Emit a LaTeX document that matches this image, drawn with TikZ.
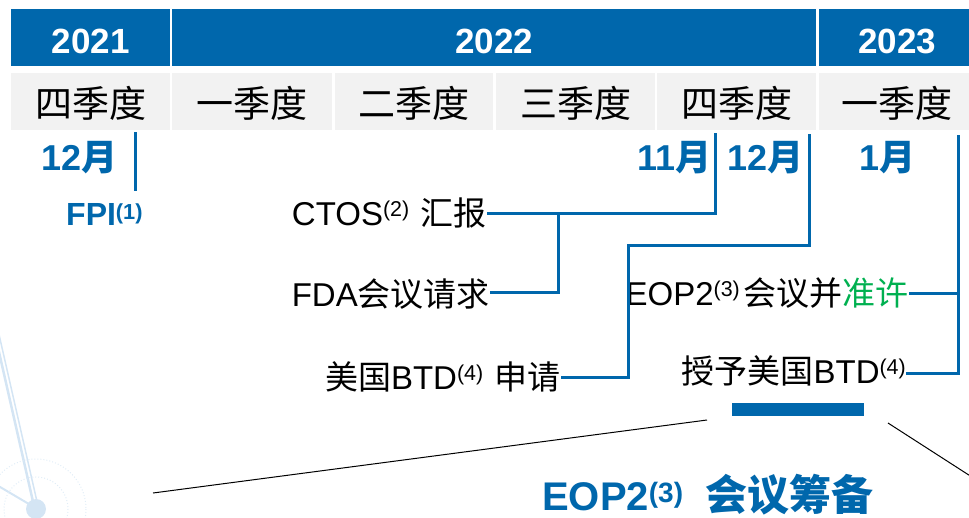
\documentclass[tikz,border=0pt]{standalone}
\usepackage{fontspec}
\usepackage{graphicx}
\setmainfont{Liberation Sans}
\newfontfamily\cjk{Noto Sans CJK SC}
\definecolor{hdrblue}{RGB}{0,103,172}
\definecolor{cellgray}{RGB}{242,242,242}
\definecolor{okgreen}{RGB}{0,176,80}
\definecolor{decoblue}{RGB}{212,229,244}
\newcommand\supr[3]{\raisebox{#2em}{\scalebox{#1}{#3}}}
\newcommand\zh[1]{{\cjk #1}}
\newcommand\ssup[1]{\supr{0.65}{0.27}{#1}}
\begin{document}
\begin{tikzpicture}[x=1pt,y=-1pt,
  yearcell/.style={fill=hdrblue, text=white, font=\fontsize{35}{40}\selectfont\bfseries,
    minimum height=57pt, inner sep=0pt, anchor=north west, text height=31pt, text depth=0pt},
  qcell/.style={fill=cellgray, text=black, font=\fontsize{37}{42}\selectfont\cjk,
    minimum height=57pt, inner sep=0pt, anchor=north west, text height=31pt, text depth=0pt},
  lbl/.style={inner sep=0pt, font=\fontsize{33}{39}\selectfont, text height=24pt, text depth=0pt},
  month/.style={inner sep=0pt, text=hdrblue, font=\fontsize{36}{42}\selectfont\bfseries, text height=26pt, text depth=0pt},
  fpilbl/.style={inner sep=0pt, text=hdrblue, font=\fontsize{32}{36}\selectfont\bfseries, text height=23pt, text depth=0pt},
  bigtitle/.style={inner sep=0pt, text=hdrblue, font=\fontsize{40}{46}\selectfont\bfseries, text height=28pt, text depth=0pt},
  conn/.style={draw=hdrblue, line width=3pt},
  thin/.style={draw=black, line width=1pt},
  deco/.style={draw=decoblue, line width=2.5pt}
]
\useasboundingbox (0,0) rectangle (969,517);
% faint background decoration
\begin{scope}
\clip (0,0) rectangle (969,517);
\draw[deco] (-6,330) -- (34,506);
\draw[deco, line width=1.5pt] (-2,330) -- (38,506);
\draw[deco, line width=2pt] (-5,484) -- (34,507);
\draw[decoblue!70, dotted, line width=1pt] (36,509) circle (32);
\draw[decoblue!70, dotted, line width=1pt] (36,509) circle (50);
\fill[decoblue] (36,509) circle (10);
\end{scope}
% header
\node[yearcell, minimum width=159pt] (y21) at (11,9) {2021};
\node[yearcell, minimum width=644pt] (y22) at (172,9) {2022};
\node[yearcell, minimum width=156pt] (y23) at (819,9) {2023};
\node[qcell, minimum width=159pt] (q1) at (11,73) {四季度};
\node[qcell, minimum width=160pt] (q2) at (172,73) {一季度};
\node[qcell, minimum width=158pt] (q3) at (335,73) {二季度};
\node[qcell, minimum width=159pt] (q4) at (496,73) {三季度};
\node[qcell, minimum width=159pt] (q5) at (657,73) {四季度};
\node[qcell, minimum width=156pt] (q6) at (819,73) {一季度};
% months
\node[month, anchor=east] (mo1) at (118,157) {12\zh{月}};
\node[fpilbl, anchor=west] (fpi) at (66,214) {FPI\supr{0.68}{0.2}{(1)}};
\node[month, anchor=east] (mo2) at (712,157) {11\zh{月}};
\node[month, anchor=west] (mo3) at (727,157) {12\zh{月}};
\node[month, anchor=west] (mo4) at (859,157) {1\zh{月}};
% event labels
\node[lbl, anchor=east] (ctos) at (487,213) {CTOS\ssup{(2)}\hspace{0.35em}\zh{汇报}};
\node[lbl, anchor=east] (fda) at (490,294) {FDA\zh{会议请求}};
\node[lbl, anchor=east] (btdapp) at (561,377) {\zh{美国}BTD\ssup{(4)}\hspace{0.35em}\zh{申请}};
\node[lbl, anchor=east] (eop) at (909,293) {EOP2\ssup{(3)}\hspace{0.12em}\zh{会议并}\textcolor{okgreen}{\zh{准许}}};
\node[lbl, anchor=east] (grant) at (906,371) {\zh{授予美国}BTD\ssup{(4)}};
% connector ends
\coordinate (t21a) at (135,132);
\coordinate (t21b) at (135,191);
\coordinate (t11) at (715,133);
\coordinate (fork) at (558,213);
\coordinate (t12) at (809,134);
\coordinate (bend) at (628,245);
\coordinate (t1) at (958,135);
\coordinate (fork2) at (958,293);
\draw[conn] (t21a) -- (t21b);
\draw[conn] (t11) |- (ctos.east);
\draw[conn] (fork) |- ([yshift=2pt]fda.east);
\draw[conn] (t12) |- (bend) |- (btdapp.east);
\draw[conn] (t1) |- ([yshift=-2pt]grant.east);
\draw[conn] (fork2) -- (eop.east);
% bar and zoom lines
\node[fill=hdrblue, minimum width=132pt, minimum height=13pt, inner sep=0pt, anchor=north west] (bar) at (732,403) {};
\coordinate (z1) at (153,493);
\coordinate (z2) at (707,420);
\coordinate (z3) at (888,423);
\coordinate (z4) at (975,479);
\draw[thin] (z1) -- (z2);
\draw[thin] (z3) -- (z4);
% title
\node[bigtitle, anchor=west] (title) at (542,496) {EOP2\supr{0.7}{0.2}{(3)}\hspace{22pt}\zh{\fontsize{42}{48}\selectfont 会议筹备}};
\end{tikzpicture}
\end{document}
